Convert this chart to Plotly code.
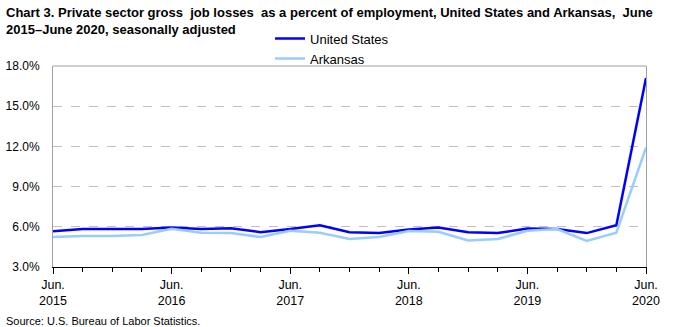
import plotly.graph_objects as go

periods = ["Jun. 2015", "Sep. 2015", "Dec. 2015", "Mar. 2016", "Jun. 2016", "Sep. 2016", "Dec. 2016",
           "Mar. 2017", "Jun. 2017", "Sep. 2017", "Dec. 2017", "Mar. 2018", "Jun. 2018", "Sep. 2018",
           "Dec. 2018", "Mar. 2019", "Jun. 2019", "Sep. 2019", "Dec. 2019", "Mar. 2020", "Jun. 2020"]
us = [5.66, 5.83, 5.83, 5.83, 5.95, 5.83, 5.9, 5.6, 5.83, 6.12, 5.6, 5.53, 5.8, 5.95,
      5.6, 5.53, 5.88, 5.83, 5.53, 6.12, 17.1]
arkansas = [5.24, 5.31, 5.31, 5.39, 5.85, 5.56, 5.53, 5.24, 5.7, 5.56, 5.09, 5.24, 5.68, 5.63,
            4.98, 5.09, 5.7, 5.83, 4.94, 5.56, 11.9]
tick_idx = [0, 4, 8, 12, 16, 20]
tick_labels = ["Jun.<br>2015", "Jun.<br>2016", "Jun.<br>2017", "Jun.<br>2018", "Jun.<br>2019", "Jun.<br>2020"]
y_ticks = [3, 6, 9, 12, 15, 18]

x = list(range(len(periods)))
font = "Liberation Sans, Arial, sans-serif"

fig = go.Figure()
fig.add_trace(go.Scatter(x=x, y=us, mode="lines", name="United States",
                         line=dict(color="#0000FF", width=2.5), text=periods))
fig.add_trace(go.Scatter(x=x, y=arkansas, mode="lines", name="Arkansas",
                         line=dict(color="#99CCFF", width=2.5), text=periods))

fig.update_layout(
    width=673, height=327,
    margin=dict(l=53, r=27, t=66, b=60, autoexpand=False),
    paper_bgcolor="white", plot_bgcolor="white",
    font=dict(family=font, size=12, color="black"),
    legend=dict(x=0.366, xanchor="left", y=0.962, yanchor="bottom", orientation="v",
                bgcolor="rgba(0,0,0,0)", font=dict(size=13), tracegroupgap=0,
                itemwidth=30),
    showlegend=True,
)
fig.update_xaxes(range=[0, 20], tickmode="array", tickvals=tick_idx, ticktext=tick_labels,
                 automargin=False,
                 showline=True, linecolor="black", linewidth=1, ticks="outside", ticklen=6,
                 tickcolor="black", showgrid=False, zeroline=False, tickfont=dict(size=12.5),
                 minor=dict(ticks="outside", dtick=1, tick0=0, ticklen=4, tickcolor="black", showgrid=False))
fig.update_yaxes(range=[3, 18], tickmode="array", tickvals=y_ticks,
                 ticktext=[f"{v:.1f}%" for v in y_ticks], ticklabelstandoff=10,
                 tickfont=dict(size=12), automargin=False,
                 showline=True, linecolor="#A0A0A0", linewidth=1, mirror=True,
                 showgrid=True, gridcolor="#C0C0C0", griddash="dash", zeroline=False, ticks="")
fig.add_shape(type="line", xref="paper", yref="paper", x0=0, x1=1, y0=1, y1=1,
              line=dict(color="#A0A0A0", width=1))
fig.add_annotation(text="<b>Chart 3. Private sector gross  job losses  as a percent of employment, United States and Arkansas,  June<br>2015–June 2020, seasonally adjusted</b>",
                   xref="paper", yref="paper", x=-0.0826, y=1.315, xanchor="left", yanchor="top",
                   align="left", showarrow=False, font=dict(size=13))
fig.add_annotation(text="Source: U.S. Bureau of Labor Statistics.", xref="paper", yref="paper",
                   x=-0.082, y=-0.228, xanchor="left", yanchor="top", showarrow=False,
                   font=dict(size=11))
fig.write_html("out.html")
